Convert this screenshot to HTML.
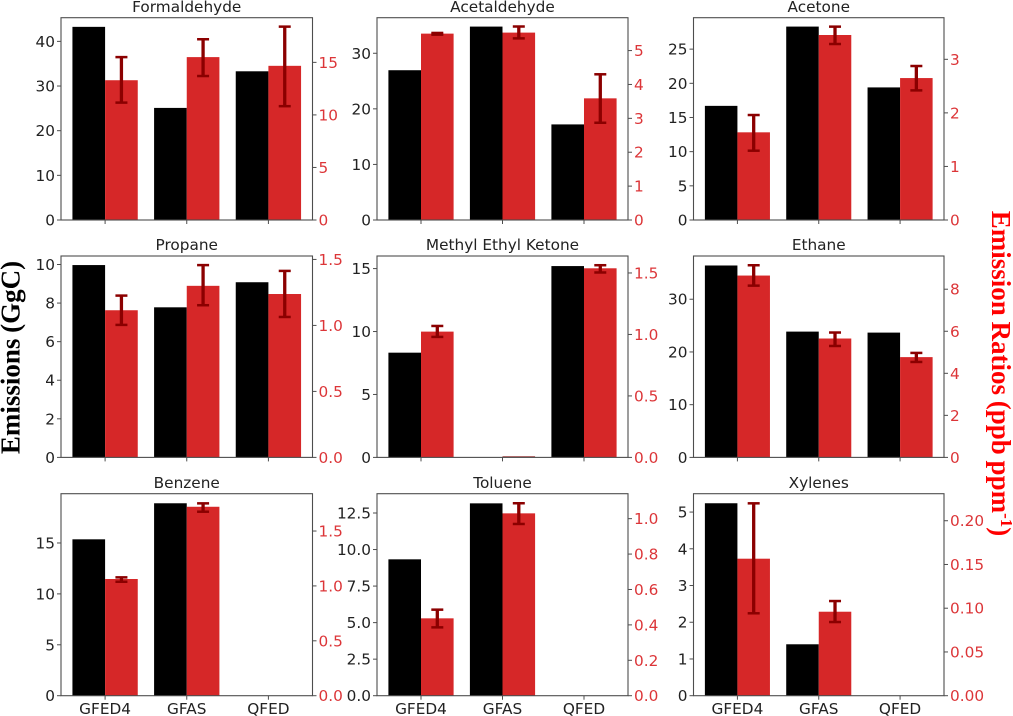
<!DOCTYPE html>
<html>
<head>
<meta charset="utf-8">
<title>Emissions and emission ratios by species</title>
<style>
html,body{margin:0;padding:0;background:#fff;width:1013px;height:716px;overflow:hidden}
svg{display:block;filter:blur(0.35px)}
text{font-family:"DejaVu Sans","Liberation Sans",sans-serif}
</style>
</head>
<body>
<svg id="chart" xmlns="http://www.w3.org/2000/svg" width="1013" height="716" viewBox="0 0 1013 716">
  <rect x="0" y="0" width="1013" height="716" fill="#ffffff"/>
  <text transform="translate(19.5,357.5) rotate(-90)" text-anchor="middle" style="font-family:'Liberation Serif',serif;font-weight:bold;font-size:27px;word-spacing:-1px" fill="#000000">Emissions (GgC)</text>
  <text transform="translate(992,373.5) rotate(90)" text-anchor="middle" style="font-family:'Liberation Serif',serif;font-weight:bold;font-size:27px;word-spacing:-1px" fill="#ff0000">Emission Ratios (ppb ppm<tspan dy="-9" font-size="17">-1</tspan><tspan dy="9">)</tspan></text>
</svg>
<script>
const species = ["Formaldehyde","Acetaldehyde","Acetone","Propane","Methyl Ethyl Ketone","Ethane","Benzene","Toluene","Xylenes"];
const categories = ["GFED4","GFAS","QFED"];
const emissions = [
  [43.25,25.1,33.3],
  [26.95,34.8,17.2],
  [16.7,28.3,19.4],
  [9.97,7.78,9.08],
  [8.32,0,15.2],
  [36.4,23.86,23.67],
  [15.36,18.9,null],
  [9.33,13.16,null],
  [5.24,1.40,null]
];
const ratios = [
  [13.3,15.5,14.67],
  [5.5,5.53,3.59],
  [1.637,3.454,2.65],
  [1.115,1.30,1.238],
  [1.023,0,1.538],
  [8.65,5.655,4.77],
  [1.063,1.721,null],
  [0.437,1.03,null],
  [0.1566,0.096,null]
];
const ratioErrLow = [
  [11.17,13.7,10.83],
  [5.47,5.36,2.87],
  [1.294,3.286,2.42],
  [1.004,1.153,1.064],
  [0.98,0,1.504],
  [8.17,5.30,4.54],
  [1.038,1.676,null],
  [0.386,0.97,null],
  [0.0942,0.0842,null]
];
const ratioErrHigh = [
  [15.5,17.2,18.4],
  [5.52,5.71,4.30],
  [1.96,3.61,2.875],
  [1.226,1.457,1.413],
  [1.069,0,1.563],
  [9.14,5.94,4.97],
  [1.078,1.752,null],
  [0.486,1.087,null],
  [0.2199,0.1082,null]
];
const leftLimits = [45.3,36.4,29.6,10.44,16.0,38.2,19.84,13.82,5.5];
const rightLimits = [19.25,5.97,3.777,1.526,1.638,9.58,1.84,1.141,0.2309];
const leftTickLabels = [
  ["0","10","20","30","40"],
  ["0","10","20","30"],
  ["0","5","10","15","20","25"],
  ["0","2","4","6","8","10"],
  ["0","5","10","15"],
  ["0","10","20","30"],
  ["0","5","10","15"],
  ["0.0","2.5","5.0","7.5","10.0","12.5"],
  ["0","1","2","3","4","5"]
];
const rightTickLabels = [
  ["0","5","10","15"],
  ["0","1","2","3","4","5"],
  ["0","1","2","3"],
  ["0.0","0.5","1.0","1.5"],
  ["0.0","0.5","1.0","1.5"],
  ["0","2","4","6","8"],
  ["0.0","0.5","1.0","1.5"],
  ["0.0","0.2","0.4","0.6","0.8","1.0"],
  ["0.00","0.05","0.10","0.15","0.20"]
];

const NS = "http://www.w3.org/2000/svg";
const svg = document.getElementById("chart");
const colEdges = [[61,312.5],[377,628],[693.5,944]];
const rowEdges = [[17.7,220],[256,457.4],[493.7,695.7]];
const FONT_SIZE = 15.3;
const INK = "#222222", RED = "#d62728", RED_TEXT = "#dc3538", SPINE = "#4d4d4d", ERR = "#8b0000";

function make(tag, attrs, parent) {
  const el = document.createElementNS(NS, tag);
  for (const k in attrs) el.setAttribute(k, attrs[k]);
  parent.appendChild(el);
  return el;
}
function slug(s) { return s.toLowerCase().replace(/[^a-z0-9]+/g, "-"); }

species.forEach(function (name, p) {
  const [x0, x1] = colEdges[p % 3];
  const [yTop, yBottom] = rowEdges[Math.floor(p / 3)];
  const key = slug(name);
  const xUnit = (x1 - x0) / 3.08;
  const xScale = function (v) { return x0 + (v + 0.54) * xUnit; };
  const yLeft = function (v) { return yBottom - v / leftLimits[p] * (yBottom - yTop); };
  const yRight = function (v) { return yBottom - v / rightLimits[p] * (yBottom - yTop); };
  const barW = 0.4 * xUnit;

  const g = make("g", {}, svg);
  
  

  categories.forEach(function (cat, i) {
    const cx = xScale(i);
    const e = emissions[p][i];
    if (e !== null && e > 0) {
      const bar = make("rect", { x: cx - barW, y: yLeft(e), width: barW, height: yBottom - yLeft(e), fill: "#000000" }, g);
      
      
    }
    const r = ratios[p][i];
    if (r === null) return;
    const mid = cx + barW / 2;
    if (r > 0) {
      const bar = make("rect", { x: cx, y: yRight(r), width: barW, height: yBottom - yRight(r), fill: RED }, g);
      
      
    } else {
      const bar = make("line", { x1: cx, x2: cx + barW, y1: yRight(r) - 0.5, y2: yRight(r) - 0.5, stroke: ERR, "stroke-width": 1 }, g);
      
      
      return;
    }
    const lo = yRight(ratioErrLow[p][i]), hi = yRight(ratioErrHigh[p][i]);
    const stem = make("line", { x1: mid, x2: mid, y1: hi, y2: lo, stroke: ERR, "stroke-width": 3.3 }, g);
    
    
    [lo, hi].forEach(function (yy, c) {
      const cap = make("line", { x1: mid - 6, x2: mid + 6, y1: yy, y2: yy, stroke: ERR, "stroke-width": 2.5 }, g);
      
      
    });
  });

  const frame = make("rect", { x: x0, y: yTop, width: x1 - x0, height: yBottom - yTop, fill: "none", stroke: SPINE, "stroke-width": 1.1 }, g);
  
  

  const title = make("text", { x: (x0 + x1) / 2, y: yTop - 5.8, "text-anchor": "middle", "font-size": FONT_SIZE, fill: INK }, g);
  title.textContent = name;
  
  

  leftTickLabels[p].forEach(function (label) {
    const yy = yLeft(parseFloat(label));
    const tick = make("line", { x1: x0 - 4, x2: x0, y1: yy, y2: yy, stroke: SPINE, "stroke-width": 1 }, g);
    
    
    const t = make("text", { x: x0 - 6, y: yy + 5.5, "text-anchor": "end", "font-size": FONT_SIZE, fill: INK }, g);
    t.textContent = label;
    
    
  });

  rightTickLabels[p].forEach(function (label) {
    const yy = yRight(parseFloat(label));
    const tick = make("line", { x1: x1, x2: x1 + 4, y1: yy, y2: yy, stroke: SPINE, "stroke-width": 1 }, g);
    
    
    const t = make("text", { x: x1 + 6, y: yy + 5.5, "text-anchor": "start", "font-size": FONT_SIZE, fill: RED_TEXT }, g);
    t.textContent = label;
    
    
  });

  categories.forEach(function (cat, i) {
    const cx = xScale(i);
    const tick = make("line", { x1: cx, x2: cx, y1: yBottom, y2: yBottom + 4, stroke: SPINE, "stroke-width": 1 }, g);
    
    
    if (p >= 6) {
      const t = make("text", { x: cx, y: yBottom + 18.5, "text-anchor": "middle", "font-size": FONT_SIZE, fill: INK }, g);
      t.textContent = cat;
      
      
    }
  });
});
</script>
</body>
</html>
